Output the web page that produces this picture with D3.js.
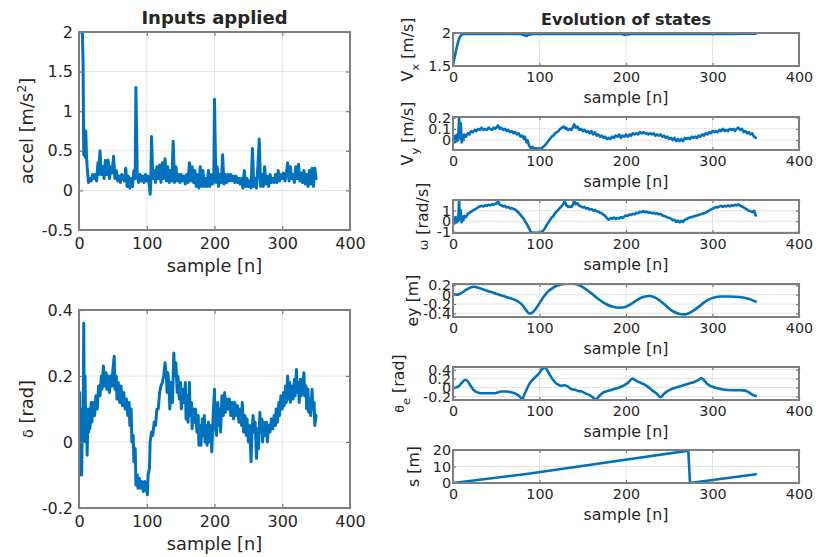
<!DOCTYPE html>
<html><head><meta charset="utf-8">
<script src="https://cdn.jsdelivr.net/npm/d3@7"></script>
<style>
body{margin:0;background:#fff}
svg{display:block}
text{font-family:"DejaVu Sans",sans-serif;fill:#262626}
</style>
</head><body>
<svg id="c" width="816" height="557"></svg>
<script>
// ---------------- DATA ----------------
const xTicks = [0,100,200,300,400];
const xTickLabels = ["0","100","200","300","400"];

const accelLim = [-0.5,2];
const accelTicks = [-0.5,0,0.5,1,1.5,2];
const accelTickLabels = ["-0.5","0","0.5","1","1.5","2"];
const accel = [[0,2.0],[2,2.0],[5,2.0],[6,1.6],[7,0.45],[8,0.6],[9,0.42],[10,0.75],[11,0.45],[12,0.3],[13,0.2],[14,0.1],[16,0.15],[18,0.12],[20,0.2],[22,0.15],[24,0.2],[26,0.12],[28,0.35],[29,0.2],[31,0.5],[33,0.2],[35,0.3],[37,0.15],[39,0.38],[41,0.2],[43,0.38],[45,0.15],[47,0.3],[49,0.22],[51,0.43],[53,0.15],[55,0.25],[57,0.12],[59,0.18],[61,0.1],[63,0.2],[65,0.15],[67,0.12],[69,0.28],[71,0.05],[73,0.18],[75,0.03],[77,0.15],[79,0.05],[81,0.25],[83,0.15],[84,1.3],[86,0.2],[88,0.1],[90,0.2],[92,0.12],[94,0.18],[96,0.1],[98,0.2],[100,0.12],[102,0.18],[104,0.05],[105,-0.05],[106,0.1],[107,0.68],[109,0.15],[111,0.25],[113,0.1],[115,0.3],[117,0.15],[119,0.32],[121,0.1],[123,0.35],[125,0.15],[127,0.4],[129,0.12],[131,0.3],[133,0.1],[135,0.25],[137,0.12],[139,0.62],[141,0.1],[143,0.3],[145,0.12],[147,0.2],[149,0.1],[151,0.2],[153,0.12],[155,0.18],[157,0.08],[159,0.2],[161,0.1],[163,0.35],[165,0.12],[167,0.3],[169,0.1],[171,0.25],[173,0.05],[175,0.2],[177,0.03],[179,0.3],[181,0.05],[183,0.25],[185,0.05],[187,0.15],[189,0.05],[191,0.25],[193,0.05],[195,0.2],[197,0.08],[199,0.15],[200,1.15],[202,0.1],[204,0.3],[206,0.05],[208,0.2],[210,0.1],[212,0.45],[214,0.08],[216,0.2],[218,0.1],[220,0.2],[222,0.12],[224,0.2],[226,0.12],[228,0.18],[230,0.1],[232,0.18],[234,0.1],[236,0.15],[238,0.08],[240,0.15],[242,0.03],[244,0.25],[246,0.05],[248,0.15],[250,0.05],[252,0.12],[254,0.03],[256,0.53],[258,0.05],[260,0.15],[262,0.03],[264,0.3],[266,0.65],[268,0.05],[270,0.2],[272,0.05],[274,0.3],[276,0.08],[278,0.18],[280,0.05],[282,0.2],[284,0.1],[286,0.15],[288,0.1],[290,0.2],[292,0.1],[294,0.25],[296,0.12],[298,0.2],[300,0.15],[302,0.22],[304,0.12],[306,0.2],[308,0.35],[310,0.12],[312,0.3],[314,0.15],[316,0.2],[318,0.1],[320,0.3],[322,0.15],[324,0.33],[326,0.12],[328,0.22],[330,0.1],[332,0.25],[334,0.08],[336,0.2],[338,0.05],[340,0.25],[342,0.08],[344,0.28],[346,0.05],[348,0.28],[350,0.15]];

const deltaLim = [-0.2,0.4];
const deltaTicks = [-0.2,0,0.2,0.4];
const deltaTickLabels = ["-0.2","0","0.2","0.4"];
const delta = [[0,0.05],[1,0.15],[2,-0.1],[3,0.1],[4,-0.1],[5,0.08],[6,0.0],[7,0.36],[8,0.05],[9,0.2],[10,0.0],[11,0.1],[12,-0.04],[13,0.06],[14,0.03],[15,0.1],[16,0.04],[18,0.12],[19,0.06],[21,0.12],[23,0.08],[25,0.14],[27,0.1],[29,0.17],[31,0.14],[33,0.2],[34,0.16],[36,0.23],[38,0.17],[40,0.21],[41,0.16],[43,0.2],[45,0.15],[47,0.2],[49,0.17],[50,0.22],[52,0.26],[53,0.16],[55,0.2],[56,0.13],[58,0.18],[60,0.12],[62,0.17],[64,0.11],[66,0.15],[68,0.1],[70,0.13],[72,0.08],[74,0.12],[75,0.05],[77,0.1],[78,0.0],[80,0.02],[81,-0.06],[83,-0.02],[84,-0.13],[86,-0.1],[87,-0.14],[89,-0.11],[91,-0.14],[93,-0.12],[95,-0.15],[97,-0.12],[99,-0.14],[101,-0.16],[102,-0.1],[104,-0.08],[105,0.0],[107,0.03],[109,0.02],[111,0.06],[113,0.05],[115,0.1],[117,0.1],[119,0.15],[121,0.17],[123,0.18],[125,0.2],[127,0.24],[129,0.2],[130,0.15],[131,0.21],[133,0.17],[134,0.1],[136,0.18],[138,0.12],[140,0.27],[141,0.2],[143,0.24],[145,0.15],[146,0.2],[148,0.13],[150,0.18],[151,0.1],[153,0.16],[155,0.12],[157,0.18],[158,0.07],[160,0.14],[161,0.06],[163,0.18],[164,0.08],[166,0.12],[167,0.04],[169,0.1],[171,0.06],[172,0.1],[174,0.03],[176,0.08],[177,-0.01],[179,0.05],[180,-0.01],[182,0.07],[183,0.02],[185,0.08],[186,0.0],[188,0.05],[189,-0.01],[191,0.06],[193,0.0],[194,0.05],[196,-0.03],[198,0.08],[200,0.16],[201,0.05],[203,0.02],[205,0.12],[206,0.05],[208,0.1],[209,0.03],[211,0.14],[213,0.08],[215,0.15],[216,0.09],[218,0.13],[220,0.1],[222,0.13],[224,0.08],[226,0.12],[228,0.07],[230,0.12],[232,0.08],[234,0.11],[236,0.06],[238,0.1],[240,0.05],[241,0.12],[243,0.03],[245,0.08],[247,0.02],[248,0.07],[250,0.0],[252,0.05],[254,-0.06],[255,0.02],[257,0.08],[258,0.03],[260,0.06],[262,-0.05],[264,0.04],[265,-0.02],[267,0.09],[268,0.03],[270,0.07],[271,0.0],[273,0.06],[275,0.02],[277,0.06],[278,0.0],[280,0.05],[282,0.03],[284,0.07],[286,0.04],[288,0.08],[290,0.05],[291,0.1],[293,0.06],[295,0.12],[296,0.08],[298,0.14],[300,0.1],[302,0.15],[303,0.11],[305,0.17],[306,0.12],[308,0.2],[309,0.13],[311,0.18],[312,0.12],[314,0.17],[316,0.13],[318,0.19],[319,0.14],[321,0.22],[322,0.15],[324,0.18],[325,0.12],[327,0.19],[328,0.14],[330,0.17],[332,0.21],[333,0.14],[335,0.17],[336,0.1],[338,0.16],[339,0.09],[341,0.13],[342,0.08],[344,0.16],[345,0.1],[347,0.12],[348,0.05],[350,0.08]];

const vxLim = [1.5,2];
const vxTicks = [1.5,2];
const vxTickLabels = ["1.5","2"];
const vx = [[0,1.52],[1,1.58],[2,1.64],[3,1.7],[4,1.76],[5,1.82],[6,1.87],[7,1.91],[8,1.94],[10,1.97],[12,1.985],[14,1.99],[20,1.985],[30,1.99],[40,1.985],[50,1.99],[60,1.985],[70,1.99],[78,1.985],[82,1.97],[85,1.955],[88,1.975],[92,1.985],[100,1.99],[120,1.985],[140,1.99],[160,1.985],[180,1.99],[195,1.985],[199,1.97],[202,1.978],[206,1.985],[220,1.99],[240,1.985],[260,1.99],[280,1.985],[300,1.99],[320,1.985],[340,1.99],[350,1.99]];

const vyLim = [-0.088,0.205];
const vyTicks = [0,0.1,0.2];
const vyTickLabels = ["0","0.1","0.2"];
const vy = [[0,0.0],[1,0.03],[2,-0.02],[3,0.04],[4,-0.01],[5,0.05],[6,0.0],[7,0.2],[8,0.02],[9,0.15],[10,-0.02],[11,0.04],[12,0.0],[13,0.05],[15,0.03],[17,0.06],[19,0.05],[21,0.08],[23,0.07],[25,0.09],[27,0.08],[29,0.1],[31,0.09],[33,0.11],[35,0.09],[37,0.1],[39,0.09],[41,0.11],[43,0.1],[45,0.09],[47,0.11],[49,0.1],[51,0.12],[52,0.13],[54,0.1],[56,0.11],[58,0.09],[60,0.1],[62,0.08],[64,0.09],[66,0.07],[68,0.08],[70,0.06],[72,0.07],[74,0.05],[76,0.06],[78,0.03],[80,0.04],[82,0.01],[83,0.03],[85,-0.02],[86,0.0],[88,-0.05],[90,-0.07],[92,-0.06],[94,-0.08],[96,-0.07],[98,-0.08],[100,-0.07],[102,-0.08],[104,-0.06],[106,-0.05],[108,-0.03],[110,-0.01],[112,0.01],[114,0.03],[116,0.04],[118,0.06],[120,0.07],[122,0.08],[124,0.1],[126,0.11],[128,0.12],[130,0.1],[131,0.11],[133,0.09],[135,0.1],[137,0.09],[139,0.12],[140,0.14],[142,0.11],[144,0.12],[146,0.09],[148,0.1],[150,0.08],[152,0.09],[154,0.07],[156,0.08],[158,0.06],[160,0.08],[162,0.05],[164,0.07],[166,0.04],[168,0.05],[170,0.03],[172,0.04],[174,0.02],[176,0.03],[178,0.01],[180,0.02],[182,0.01],[184,0.03],[186,0.02],[188,0.04],[190,0.03],[192,0.05],[194,0.02],[196,0.04],[198,0.03],[200,0.05],[202,0.03],[204,0.05],[206,0.04],[208,0.06],[210,0.05],[212,0.06],[214,0.05],[216,0.07],[218,0.06],[220,0.07],[222,0.06],[224,0.06],[226,0.05],[228,0.06],[230,0.05],[232,0.06],[234,0.04],[236,0.05],[238,0.04],[240,0.05],[242,0.03],[244,0.04],[246,0.02],[248,0.03],[250,0.01],[252,0.02],[254,0.0],[256,0.02],[258,-0.01],[260,0.01],[262,-0.01],[264,0.01],[266,-0.01],[268,0.02],[270,0.01],[272,0.02],[274,0.01],[276,0.03],[278,0.02],[280,0.03],[282,0.02],[284,0.04],[286,0.03],[288,0.05],[290,0.04],[292,0.06],[294,0.05],[296,0.07],[298,0.06],[300,0.08],[302,0.07],[304,0.08],[306,0.07],[308,0.09],[310,0.08],[312,0.1],[314,0.08],[316,0.09],[318,0.08],[320,0.1],[322,0.09],[324,0.1],[326,0.08],[328,0.1],[330,0.11],[332,0.09],[334,0.1],[336,0.07],[338,0.08],[340,0.06],[342,0.07],[344,0.05],[346,0.06],[348,0.03],[350,0.02]];

const omegaLim = [-1.1,2.0];
const omegaTicks = [-1,0,1];
const omegaTickLabels = ["-1","0","1"];
const omega = [[0,0.0],[1,0.3],[2,-0.2],[3,0.4],[4,-0.1],[5,0.3],[6,0.0],[7,1.95],[8,0.2],[9,1.0],[10,-0.1],[11,0.4],[12,0.1],[13,0.5],[15,0.4],[17,0.7],[19,0.8],[21,0.9],[23,1.0],[25,1.1],[27,1.2],[29,1.3],[31,1.4],[33,1.45],[35,1.4],[37,1.5],[39,1.45],[41,1.55],[43,1.5],[45,1.6],[47,1.55],[49,1.65],[51,1.7],[52,1.9],[54,1.55],[56,1.5],[58,1.4],[60,1.45],[62,1.3],[64,1.35],[66,1.2],[68,1.25],[70,1.15],[72,1.1],[74,0.95],[76,0.8],[78,0.6],[80,0.4],[82,0.2],[84,-0.1],[86,-0.35],[88,-0.7],[90,-1.0],[92,-1.1],[94,-1.05],[96,-1.1],[98,-1.05],[100,-1.1],[102,-1.05],[104,-0.9],[106,-0.7],[108,-0.4],[110,-0.15],[112,0.1],[114,0.35],[116,0.5],[118,0.75],[120,0.95],[122,1.1],[124,1.3],[126,1.45],[128,1.7],[129,1.9],[131,1.5],[133,1.35],[135,1.4],[137,1.35],[139,1.6],[140,1.95],[142,1.6],[144,1.7],[146,1.45],[148,1.4],[150,1.3],[152,1.35],[154,1.2],[156,1.25],[158,1.1],[160,1.15],[162,1.0],[164,1.05],[166,0.95],[168,0.9],[170,0.8],[172,0.75],[174,0.6],[176,0.5],[178,0.3],[180,0.15],[182,0.3],[184,0.25],[186,0.35],[188,0.2],[190,0.3],[192,0.25],[194,0.4],[196,0.3],[198,0.45],[200,0.55],[202,0.5],[204,0.65],[206,0.6],[208,0.7],[210,0.65],[212,0.8],[214,0.75],[216,0.9],[218,0.85],[220,0.95],[222,0.85],[224,0.9],[226,0.8],[228,0.85],[230,0.75],[232,0.8],[234,0.7],[236,0.75],[238,0.65],[240,0.7],[242,0.55],[244,0.5],[246,0.45],[248,0.35],[250,0.3],[252,0.25],[254,0.1],[256,0.15],[258,-0.05],[260,0.05],[262,-0.1],[264,0.05],[266,-0.05],[268,0.15],[270,0.2],[272,0.3],[274,0.35],[276,0.4],[278,0.45],[280,0.5],[282,0.55],[284,0.6],[286,0.65],[288,0.7],[290,0.75],[292,0.8],[294,0.9],[296,1.0],[298,1.1],[300,1.2],[302,1.25],[304,1.35],[306,1.3],[308,1.4],[310,1.45],[312,1.35],[314,1.45],[316,1.4],[318,1.5],[320,1.4],[322,1.5],[324,1.45],[326,1.55],[328,1.5],[330,1.6],[332,1.45],[334,1.4],[336,1.3],[338,1.2],[340,1.1],[342,1.0],[344,0.95],[346,0.85],[348,1.0],[350,0.55]];

const eyLim = [-0.476,0.227];
const eyTicks = [-0.4,-0.2,0,0.2];
const eyTickLabels = ["-0.4","-0.2","0","0.2"];
const ey = [[0,0.0],[5,0.0],[10,0.04],[15,0.1],[20,0.15],[24,0.17],[30,0.14],[40,0.08],[50,0.02],[60,-0.04],[70,-0.1],[75,-0.14],[80,-0.22],[85,-0.34],[88,-0.4],[91,-0.39],[95,-0.32],[100,-0.18],[105,-0.04],[110,0.07],[115,0.14],[120,0.19],[128,0.23],[135,0.24],[142,0.23],[148,0.18],[155,0.1],[162,0.0],[170,-0.12],[178,-0.21],[185,-0.26],[192,-0.28],[198,-0.27],[204,-0.22],[210,-0.15],[216,-0.08],[222,-0.04],[227,-0.03],[232,-0.05],[238,-0.11],[244,-0.2],[250,-0.3],[256,-0.37],[262,-0.41],[267,-0.42],[272,-0.4],[278,-0.34],[284,-0.26],[290,-0.17],[296,-0.1],[302,-0.06],[310,-0.04],[320,-0.04],[330,-0.05],[338,-0.07],[344,-0.1],[350,-0.15]];

const thetaLim = [-0.28,0.46];
const thetaTicks = [-0.2,0,0.2,0.4];
const thetaTickLabels = ["-0.2","0","0.2","0.4"];
const theta = [[0,-0.02],[3,0.0],[6,0.02],[10,0.1],[14,0.17],[16,0.16],[20,0.05],[24,-0.06],[28,-0.11],[33,-0.13],[40,-0.13],[47,-0.13],[52,-0.11],[56,-0.09],[62,-0.09],[66,-0.1],[70,-0.12],[75,-0.17],[78,-0.22],[80,-0.27],[82,-0.18],[85,-0.05],[88,0.07],[92,0.17],[96,0.25],[100,0.33],[104,0.43],[106,0.46],[109,0.38],[113,0.25],[117,0.14],[121,0.07],[125,0.04],[129,0.05],[133,0.02],[137,-0.04],[141,-0.05],[145,-0.08],[149,-0.09],[153,-0.13],[157,-0.16],[161,-0.21],[165,-0.27],[169,-0.19],[173,-0.12],[177,-0.09],[182,-0.06],[187,-0.03],[192,0.0],[197,0.04],[202,0.1],[206,0.18],[208,0.2],[211,0.16],[215,0.12],[220,0.08],[225,0.02],[230,-0.06],[235,-0.13],[240,-0.22],[244,-0.14],[248,-0.08],[253,-0.03],[258,0.0],[263,0.03],[268,0.06],[273,0.09],[278,0.12],[283,0.16],[287,0.21],[290,0.17],[294,0.08],[298,0.03],[303,0.0],[308,-0.03],[314,-0.05],[320,-0.06],[326,-0.06],[332,-0.06],[338,-0.07],[342,-0.11],[346,-0.16],[350,-0.19]];

const sLim = [0,20];
const sTicks = [0,10,20];
const sTickLabels = ["0","10","20"];
const sPos = [[0,0],[85,5.5],[272,19.6],[274,0],[350,5.3]];

// ---------------- LAYOUT ----------------
const BLUE = "#0072BD";
const svg = d3.select("#c");
const styleBig = {tick:16, label:17.8, title:18, padX:8, padY:6, tickLen:4, lw:3.0, xlab:42};
const styleSmall = {tick:14.3, label:15.8, title:16, padX:6, padY:2, tickLen:3, lw:2.6, xlab:36.5};
const rTop = [33,117,200,284,367,450], rH = 33;

const panels = [
  {x0:79,x1:350,y0:32,y1:230, st:styleBig, data:accel, lim:accelLim, ticks:accelTicks, tl:accelTickLabels,
   lab:[{t:"accel [m/s"},{t:"2",k:"sup"},{t:"]"}], labX:33, title:"Inputs applied", titleY:23.5},
  {x0:79,x1:350,y0:310,y1:508, st:styleBig, data:delta, lim:deltaLim, ticks:deltaTicks, tl:deltaTickLabels,
   lab:[{t:"δ",k:"greek"},{t:" [rad]"}], labX:33},
  {x0:453,x1:799,y0:rTop[0],y1:rTop[0]+rH, st:styleSmall, data:vx, lim:vxLim, ticks:vxTicks, tl:vxTickLabels,
   lab:[{t:"V"},{t:"x",k:"sub"},{t:" [m/s]"}], labX:413, title:"Evolution of states", titleY:25},
  {x0:453,x1:799,y0:rTop[1],y1:rTop[1]+rH, st:styleSmall, data:vy, lim:vyLim, ticks:vyTicks, tl:vyTickLabels,
   lab:[{t:"V"},{t:"y",k:"sub"},{t:" [m/s]"}], labX:413},
  {x0:453,x1:799,y0:rTop[2],y1:rTop[2]+rH, st:styleSmall, data:omega, lim:omegaLim, ticks:omegaTicks, tl:omegaTickLabels,
   lab:[{t:"ω",k:"greek"},{t:" [rad/s]"}], labX:428},
  {x0:453,x1:799,y0:rTop[3],y1:rTop[3]+rH, st:styleSmall, data:ey, lim:eyLim, ticks:eyTicks, tl:eyTickLabels,
   lab:[{t:"ey [m]"}], labX:418, curve:d3.curveMonotoneX},
  {x0:453,x1:799,y0:rTop[4],y1:rTop[4]+rH, st:styleSmall, data:theta, lim:thetaLim, ticks:thetaTicks, tl:thetaTickLabels,
   lab:[{t:"θ",k:"greek"},{t:"e",k:"sub"},{t:" [rad]"}], labX:404, curve:d3.curveMonotoneX},
  {x0:453,x1:799,y0:rTop[5],y1:rTop[5]+rH, st:styleSmall, data:sPos, lim:sLim, ticks:sTicks, tl:sTickLabels,
   lab:[{t:"s [m]"}], labX:419}
];

const defs = svg.append("defs");
panels.forEach((p,i) => {
  const st = p.st;
  const g = svg.append("g");
  const x = d3.scaleLinear().domain([xTicks[0], xTicks[xTicks.length-1]]).range([p.x0,p.x1]);
  const y = d3.scaleLinear().domain(p.lim).range([p.y1,p.y0]);

  // grid
  g.append("g").selectAll("line").data(xTicks).join("line")
    .attr("x1",d=>x(d)).attr("x2",d=>x(d)).attr("y1",p.y0).attr("y2",p.y1)
    .attr("stroke","#e4e4e4").attr("stroke-width",1);
  g.append("g").selectAll("line").data(p.ticks).join("line")
    .attr("y1",d=>y(d)).attr("y2",d=>y(d)).attr("x1",p.x0).attr("x2",p.x1)
    .attr("stroke","#e4e4e4").attr("stroke-width",1);

  // clip + line
  const cid = "clip"+i;
  defs.append("clipPath").attr("id",cid).append("rect")
    .attr("x",p.x0).attr("y",p.y0).attr("width",p.x1-p.x0).attr("height",p.y1-p.y0);
  g.append("path").datum(p.data).attr("clip-path",`url(#${cid})`)
    .attr("fill","none").attr("stroke",BLUE).attr("stroke-width",st.lw)
    .attr("stroke-linejoin","round").attr("stroke-linecap","round")
    .attr("d", d3.line().x(d=>x(d[0])).y(d=>y(d[1])).curve(p.curve || d3.curveLinear));

  // axes
  const axB = d3.axisBottom(x).tickValues(xTicks).tickFormat((d,j)=>xTickLabels[j])
    .tickSizeInner(-st.tickLen).tickSizeOuter(0).tickPadding(st.padX);
  const axT = d3.axisTop(x).tickValues(xTicks).tickFormat("").tickSizeInner(-st.tickLen).tickSizeOuter(0);
  const axL = d3.axisLeft(y).tickValues(p.ticks).tickFormat((d,j)=>p.tl[j])
    .tickSizeInner(-st.tickLen).tickSizeOuter(0).tickPadding(st.padY);
  const axR = d3.axisRight(y).tickValues(p.ticks).tickFormat("").tickSizeInner(-st.tickLen).tickSizeOuter(0);
  const gB = g.append("g").attr("transform",`translate(0,${p.y1})`).call(axB);
  const gT = g.append("g").attr("transform",`translate(0,${p.y0})`).call(axT);
  const gL = g.append("g").attr("transform",`translate(${p.x0},0)`).call(axL);
  const gR = g.append("g").attr("transform",`translate(${p.x1},0)`).call(axR);
  [gB,gT,gL,gR].forEach(a => {
    a.select(".domain").remove();
    a.selectAll(".tick line").attr("stroke","#7a7a7a").attr("stroke-width",1.2);
    a.selectAll("text").attr("fill","#2b2b2b").style("font-size",st.tick+"px")
      .style("font-family","'DejaVu Sans',sans-serif");
  });

  // box
  g.append("rect").attr("x",p.x0).attr("y",p.y0).attr("width",p.x1-p.x0).attr("height",p.y1-p.y0)
    .attr("fill","none").attr("stroke","#7f7f7f").attr("stroke-width",2);

  // x label
  g.append("text").attr("x",(p.x0+p.x1)/2).attr("y",p.y1+st.xlab).attr("text-anchor","middle")
    .style("font-size",st.label+"px").attr("fill","#2b2b2b").text("sample [n]");

  // y label
  const fs = st.label;
  const t = g.append("text").attr("transform",`translate(${p.labX},${(p.y0+p.y1)/2}) rotate(-90)`)
    .attr("text-anchor","middle").style("font-size",fs+"px").attr("fill","#2b2b2b");
  let shift = 0;
  p.lab.forEach(s => {
    const ts = t.append("tspan").text(s.t);
    let target = 0, size = fs;
    if (s.k==="sub") { target = 0.4*fs; size = 0.72*fs; }
    else if (s.k==="sup") { target = -0.42*fs; size = 0.72*fs; }
    else if (s.k==="greek") { size = 0.8*fs; }
    ts.style("font-size",size+"px");
    if (target !== shift) { ts.attr("dy", target - shift); shift = target; }
  });

  // title
  if (p.title) {
    g.append("text").attr("x",(p.x0+p.x1)/2).attr("y",p.titleY).attr("text-anchor","middle")
      .style("font-size",st.title+"px").style("font-weight","bold").attr("fill","#000").text(p.title);
  }
});
</script>
</body></html>
